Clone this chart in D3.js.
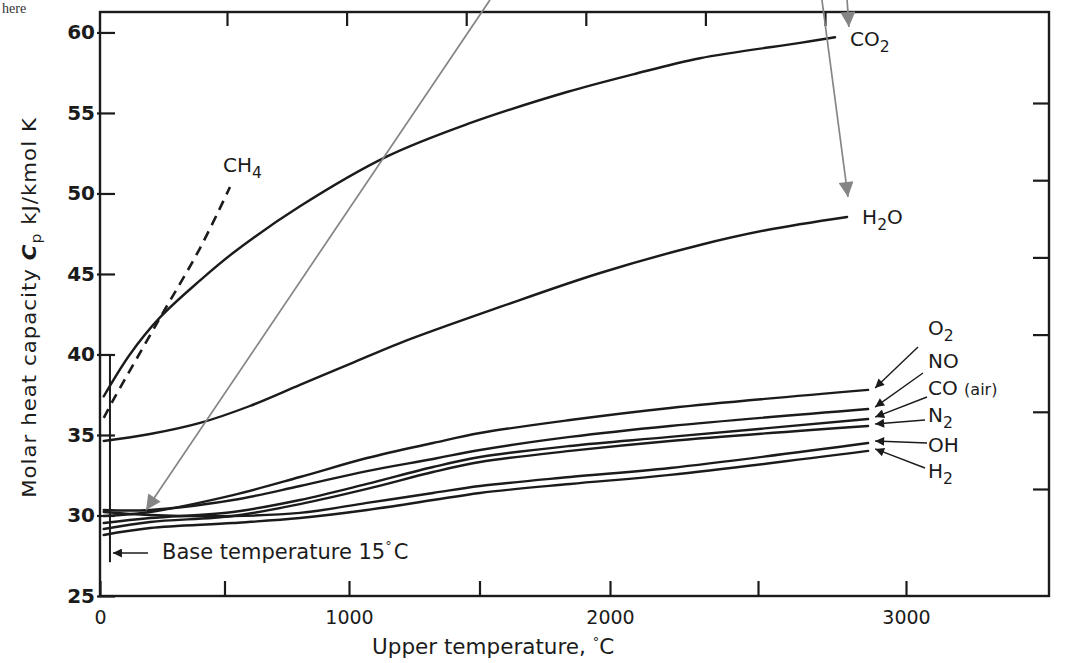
<!DOCTYPE html>
<html><head><meta charset="utf-8">
<script src="https://cdn.jsdelivr.net/npm/d3@7"></script>
<style>
body{margin:0;background:#fff;}
svg{display:block;}
</style></head><body>
<svg id="chart" width="1065" height="663"></svg>
<script>
// ---------- data ----------
const xTickValues = [0, 500, 1000, 1500, 2000, 2500, 3000];
const xTickLabels = [0, 1000, 2000, 3000];
const yTickValues = [25, 30, 35, 40, 45, 50, 55, 60];
// [upper temperature °C, mean molar heat capacity kJ/kmol K]
const co2 = [[15,37.4],[120,40.0],[241,42.3],[402,44.6],[534,46.3],[803,49.2],[1146,52.3],[1452,54.3],[1835,56.3],[2078,57.4],[2304,58.4],[2642,59.35],[2760,59.7]];
const h2o = [[15,34.63],[201,35.06],[402,35.75],[602,36.8],[803,38.11],[1004,39.41],[1195,40.71],[1579,42.95],[1962,45.06],[2304,46.8],[2530,47.73],[2801,48.54]];
const ch4 = [[15,36.06],[60,37.36],[241,42.27],[402,46.61],[522,50.4]];
const lowTemps = [15,201,534,803,1069,1322,1502,1847,2203,2872];
const o2 = [29.97,30.22,31.27,32.39,33.57,34.50,35.12,35.93,36.68,37.80];
const no = [30.34,30.34,30.96,31.83,32.76,33.51,34.07,34.88,35.56,36.61];
const co = [29.53,29.84,30.22,30.96,31.96,33.01,33.63,34.32,34.88,35.99];
const n2 = [29.16,29.60,29.97,30.71,31.65,32.70,33.32,34.01,34.63,35.56];
const oh = [30.22,30.03,29.97,30.16,30.78,31.40,31.83,32.39,32.95,34.50];
const h2 = [28.79,29.22,29.53,29.84,30.34,30.96,31.40,31.96,32.52,34.01];
const baseTemp = 40;          // drawn position of the base-temperature marker
const baseTempRange = [27.1, 40];

// ---------- layout ----------
const W = 1065, H = 663;
// the scanned axis is slightly uneven, so the scale follows the printed tick labels
const x = d3.scaleLinear().domain([0, 1000, 2000, 3000, 3483]).range([100, 349, 610, 906, 1049]);
const xTop = d3.scaleLinear().domain([500, 3000]).range([227, 825]);
const y = d3.scaleLinear().domain([25, 61.27]).range([596, 12]);
const yRight = d3.scaleLinear().domain([30, 55]).range([489, 103]);
const ink = "#1b1b1b";
const FONT = "'DejaVu Sans', sans-serif";

const svg = d3.select("#chart");
svg.append("rect").attr("width", W).attr("height", H).attr("fill", "#fff");

const defs = svg.append("defs");
defs.append("marker").attr("id","ah").attr("viewBox","0 0 10 10").attr("refX",10).attr("refY",5)
  .attr("markerWidth",13).attr("markerHeight",9).attr("markerUnits","userSpaceOnUse").attr("orient","auto")
  .append("path").attr("d","M0,0L10,5L0,10Z").attr("fill",ink);
defs.append("marker").attr("id","gh").attr("viewBox","0 0 10 10").attr("refX",10).attr("refY",5)
  .attr("markerWidth",19).attr("markerHeight",15).attr("markerUnits","userSpaceOnUse").attr("orient","auto")
  .append("path").attr("d","M0,0L10,5L0,10Z").attr("fill","#858585");

// stray text from the scanned page
svg.append("text").attr("x",2).attr("y",13).attr("font-family","'Liberation Serif', serif")
  .attr("font-size",14).attr("fill","#333").text("here");

// frame
svg.append("rect").attr("x",x(0)).attr("y",y(61.27)).attr("width",x(3483)-x(0)).attr("height",y(25)-y(61.27))
  .attr("fill","none").attr("stroke",ink).attr("stroke-width",2.4);

// axes
function styleAxis(g){
  g.select(".domain").remove();
  g.selectAll(".tick line").attr("stroke",ink).attr("stroke-width",2.2);
  g.selectAll(".tick text").attr("fill",ink).style("font-family",FONT);
}
const gL = svg.append("g").attr("transform",`translate(${x(0)},0)`)
  .call(d3.axisLeft(y).tickValues(yTickValues).tickSize(-15).tickPadding(5));
styleAxis(gL);
gL.selectAll(".tick line").attr("x1",-3);
gL.selectAll(".tick text").style("font-size","20px").style("font-weight","bold");

const gB = svg.append("g").attr("transform",`translate(0,${y(25)})`)
  .call(d3.axisBottom(x).tickValues(xTickValues).tickSize(-15).tickPadding(15)
    .tickFormat(d => xTickLabels.includes(d) ? d : ""));
styleAxis(gB);
gB.selectAll(".tick text").style("font-size","19px");

const gT = svg.append("g").attr("transform",`translate(0,${y(61.27)})`)
  .call(d3.axisTop(xTop).tickValues(xTickValues.slice(1)).tickSize(-14).tickFormat(""));
styleAxis(gT);
const gR = svg.append("g").attr("transform",`translate(${x(3483)},0)`)
  .call(d3.axisRight(yRight).tickValues([30,35,40,45,50,55]).tickSize(-16).tickFormat(""));
styleAxis(gR);

// axis titles
svg.append("text").attr("x",372).attr("y",654).attr("font-family",FONT).attr("font-size",21.5).attr("fill",ink)
  .call(t => { t.append("tspan").text("Upper temperature, ");
               t.append("tspan").attr("dy",-8).attr("font-size",13).text("°");
               t.append("tspan").attr("dy",8).text("C"); });
svg.append("text").attr("transform","translate(36,308) rotate(-90) scale(1.12,1)").attr("text-anchor","middle")
  .attr("font-family",FONT).attr("font-size",19).attr("fill",ink)
  .attr("textLength",339).attr("lengthAdjust","spacing")
  .call(t => { t.append("tspan").text("Molar heat capacity ");
               t.append("tspan").attr("font-style","italic").attr("font-weight","bold").text("C");
               t.append("tspan").attr("dy",5).attr("font-size",14).text("p");
               t.append("tspan").attr("dy",-5).text(" kJ/kmol K"); });

// curves
const line = d3.line().x(d => x(d[0])).y(d => y(d[1])).curve(d3.curveCatmullRom.alpha(0.5));
const zipT = vals => lowTemps.map((t,i) => [t, vals[i]]);
const solid = [co2, h2o, zipT(o2), zipT(no), zipT(co), zipT(n2), zipT(oh), zipT(h2)];
svg.append("g").selectAll("path").data(solid).join("path")
  .attr("d", line).attr("fill","none").attr("stroke",ink).attr("stroke-width",2.4).attr("stroke-linecap","round");
svg.append("path").datum(ch4).attr("d", line).attr("fill","none").attr("stroke",ink)
  .attr("stroke-width",2.6).attr("stroke-dasharray","10,7");

// labels with subscripts
function chem(parent, px, py, parts, size){
  const t = parent.append("text").attr("x",px).attr("y",py).attr("font-family",FONT)
    .attr("font-size",size).attr("fill",ink);
  let shift = 0;
  parts.forEach(p => {
    const sub = p.sub === true;
    const want = sub ? 6 : 0;
    t.append("tspan").attr("dy", want - shift).attr("font-size", sub ? size*0.78 : (p.size || size)).text(p.s);
    shift = want;
  });
  return t;
}
const last = a => a[a.length-1];
chem(svg, x(last(co2)[0])+15, y(last(co2)[1])+9, [{s:"CO"},{s:"2",sub:true}], 20);
chem(svg, x(last(h2o)[0])+15, y(last(h2o)[1])+7, [{s:"H"},{s:"2",sub:true},{s:"O"}], 20);
chem(svg, 223, 172, [{s:"CH"},{s:"4",sub:true}], 20);

// lower group labels and pointer arrows
const lowLabels = [
  {parts:[{s:"O"},{s:"2",sub:true}], vals:o2, ly:335, tail:[-10,12]},
  {parts:[{s:"NO"}], vals:no, ly:368, tail:[-5,5]},
  {parts:[{s:"CO "},{s:"(air)",size:16}], vals:co, ly:395, tail:[-1,2]},
  {parts:[{s:"N"},{s:"2",sub:true}], vals:n2, ly:422, tail:[-3,-2]},
  {parts:[{s:"OH"}], vals:oh, ly:452, tail:[-1,-9]},
  {parts:[{s:"H"},{s:"2",sub:true}], vals:h2, ly:478, tail:[-3,-10]}
];
const labX = 928;
lowLabels.forEach(L => {
  chem(svg, labX, L.ly, L.parts, 20);
  const ex = x(last(lowTemps)) + 7, ey = y(last(L.vals)) - 2;
  svg.append("line").attr("x1", labX + L.tail[0]).attr("y1", L.ly + L.tail[1])
    .attr("x2", ex).attr("y2", ey).attr("stroke",ink).attr("stroke-width",1.4).attr("marker-end","url(#ah)");
});

// base temperature marker
svg.append("line").attr("x1",x(baseTemp)).attr("x2",x(baseTemp)).attr("y1",y(baseTempRange[1])).attr("y2",y(baseTempRange[0]))
  .attr("stroke",ink).attr("stroke-width",2);
svg.append("line").attr("x1",x(baseTemp)+38).attr("x2",x(baseTemp)+3).attr("y1",y(27.67)).attr("y2",y(27.67))
  .attr("stroke",ink).attr("stroke-width",1.6).attr("marker-end","url(#ah)");
svg.append("text").attr("x",162).attr("y",559).attr("font-family",FONT).attr("font-size",21).attr("fill",ink)
  .call(t => { t.append("tspan").text("Base temperature 15");
               t.append("tspan").attr("dy",-9).attr("font-size",13).text("°");
               t.append("tspan").attr("dy",9).attr("dx",2).text("C"); });

// grey overlay arrows
const grey = [
  {from:[1540, 62.02], to:[185, 30.34]},
  {from:[2801, 62.02], to:[2807, 60.34]},
  {from:[2716, 62.02], to:[2804, 49.78]}
];
svg.append("g").selectAll("line").data(grey).join("line")
  .attr("x1", d => x(d.from[0])).attr("y1", d => y(d.from[1]))
  .attr("x2", d => x(d.to[0])).attr("y2", d => y(d.to[1]))
  .attr("stroke","#858585").attr("stroke-width",1.7).attr("marker-end","url(#gh)");
</script>
</body></html>
